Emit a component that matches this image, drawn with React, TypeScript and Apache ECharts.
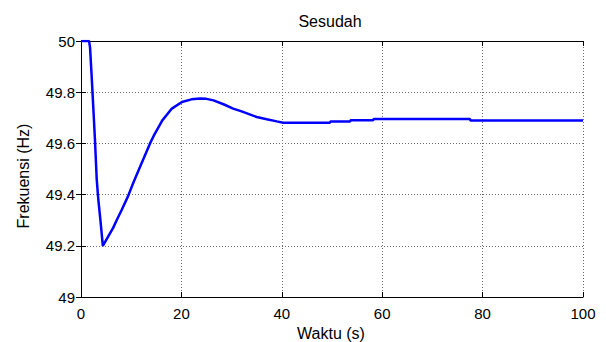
import React, { useEffect, useRef } from "react";
import * as echarts from "echarts";

const titleText = "Sesudah";
const xName = "Waktu (s)";
const yName = "Frekuensi (Hz)";

const timeS = [
  0, 1.6, 1.8, 2.13, 2.45, 2.79, 3.13, 3.45, 3.92, 4.35, 4.8, 6.4, 7.1, 8.1, 9.4, 10.4,
  11.75, 13.75, 14.5, 16.2, 18.1, 20.1, 22, 23.7, 25, 26.4, 28.5, 30.3, 32, 35, 37, 39,
  40.3, 49.6, 49.7, 53.6, 53.7, 58.2, 58.3, 77.5, 77.6, 100,
];
const freqHz = [
  50, 50, 49.975, 49.86, 49.74, 49.61, 49.46, 49.38, 49.29, 49.2, 49.215, 49.27, 49.3,
  49.34, 49.395, 49.445, 49.508, 49.6, 49.63, 49.69, 49.736, 49.762, 49.772, 49.775,
  49.774, 49.768, 49.752, 49.736, 49.725, 49.703, 49.694, 49.686, 49.681, 49.681, 49.686,
  49.686, 49.69, 49.69, 49.695, 49.695, 49.689, 49.689,
];

const FONT = "'Liberation Sans', Arial, sans-serif";

export default function App() {
  const ref = useRef<HTMLDivElement>(null);
  useEffect(() => {
    if (!ref.current) return;
    const chart = echarts.init(ref.current, undefined, { renderer: "svg" });
    const data = timeS.map((t, i) => [t, freqHz[i]]);
    const axisLine = { show: true, lineStyle: { color: "#000", width: 1 } };
    const tick = { show: true, inside: true, length: 5, lineStyle: { color: "#000" } };
    const split = { show: true, lineStyle: { color: "#707070", type: [1, 2], width: 1 } };
    chart.setOption({
      animation: false,
      backgroundColor: "#fff",
      textStyle: { fontFamily: FONT },
      grid: { left: 81, right: 23, top: 41, bottom: 45, containLabel: false },
      graphic: [
        {
          type: "text",
          x: 330,
          y: 21,
          style: { text: titleText, font: `16px ${FONT}`, fill: "#000", textAlign: "center", textVerticalAlign: "middle" },
        },
        {
          type: "text",
          x: 331,
          y: 333,
          style: { text: xName, font: `16px ${FONT}`, fill: "#000", textAlign: "center", textVerticalAlign: "middle" },
        },
        {
          type: "text",
          x: 23,
          y: 176,
          rotation: Math.PI / 2,
          style: { text: yName, font: `16px ${FONT}`, fill: "#000", textAlign: "center", textVerticalAlign: "middle" },
        },
      ],
      xAxis: [
        {
          type: "value",
          min: 0,
          max: 100,
          interval: 20,
          position: "bottom",
          axisLine,
          axisTick: tick,
          splitLine: split,
          axisLabel: { color: "#000", fontSize: 15, fontFamily: FONT, margin: 9 },
        },
        {
          type: "value",
          min: 0,
          max: 100,
          interval: 20,
          position: "top",
          axisLine,
          axisTick: tick,
          splitLine: { show: false },
          axisLabel: { show: false },
        },
      ],
      yAxis: [
        {
          type: "value",
          min: 49,
          max: 50,
          interval: 0.2,
          position: "left",
          axisLine,
          axisTick: tick,
          splitLine: split,
          axisLabel: { color: "#000", fontSize: 15, fontFamily: FONT, margin: 6 },
        },
        {
          type: "value",
          min: 49,
          max: 50,
          interval: 0.2,
          position: "right",
          axisLine,
          axisTick: tick,
          splitLine: { show: false },
          axisLabel: { show: false },
        },
      ],
      series: [
        {
          type: "line",
          data,
          showSymbol: false,
          symbol: "none",
          lineStyle: { color: "#0000ff", width: 2.5 },
          xAxisIndex: 0,
          yAxisIndex: 0,
        },
      ],
    });
    return () => chart.dispose();
  }, []);
  return (
    <div
      ref={ref}
      style={{ position: "fixed", left: 0, top: 0, width: 606, height: 342, background: "#fff" }}
    />
  );
}
